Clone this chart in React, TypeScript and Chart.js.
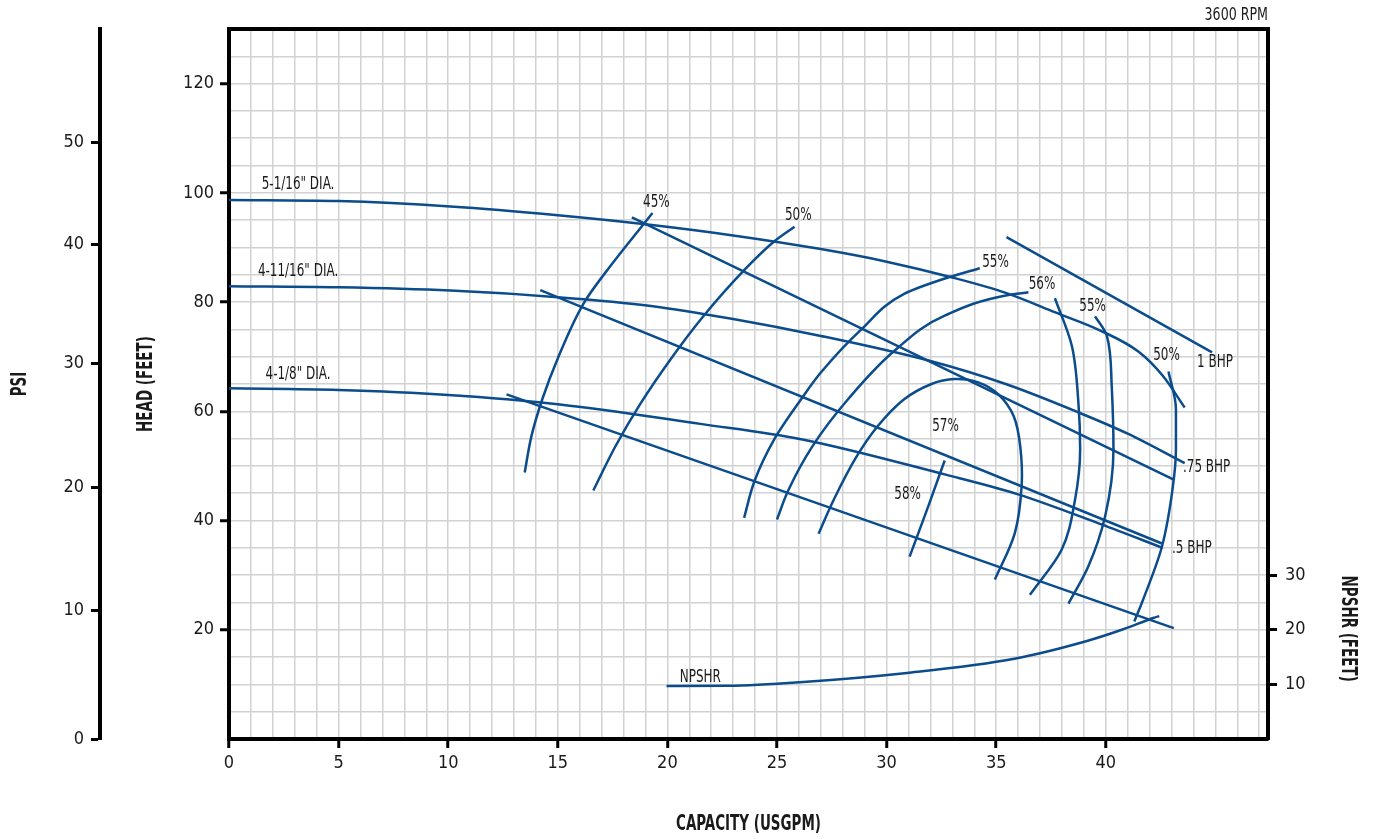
import React, { useEffect, useRef } from 'react';
import { Chart, registerables } from 'chart.js';

Chart.register(...registerables);

const FONT = "'Liberation Sans Narrow', 'DejaVu Sans Condensed', 'Liberation Sans', sans-serif";
const BLUE = '#0b4c8c';
const TEXT = '#1a1a1a';
const GRID = '#d2d2d2';

// Axis ranges and tick labels
const X_MAX = 47.4;
const Y_MAX = 130;
const X_TICK_LABELS = [0, 5, 10, 15, 20, 25, 30, 35, 40];
const HEAD_TICK_LABELS = [20, 40, 60, 80, 100, 120];
const PSI_TICK_LABELS = [0, 10, 20, 30, 40, 50];
const PSI_TICK_HEAD = [0, 23.6, 46.0, 68.8, 90.6, 109.3];
const NPSHR_TICKS = [10, 20, 30];

// Head curves (capacity USGPM, head ft)
const DIA_5_1_16: [number, number][] = [[0, 98.7], [5, 98.5], [10.1, 97.5], [15, 95.9], [19.1, 94.2], [23, 92.2], [27, 89.7], [30, 87.4], [33, 84.5], [35.5, 81.6], [37.7, 78.1], [39.8, 74.7], [41.5, 70.9], [42.6, 66.5], [43.6, 60.7]];
const DIA_4_11_16: [number, number][] = [[0, 82.9], [5, 82.7], [10.1, 82.1], [15, 80.9], [19.25, 79.3], [23, 76.9], [27, 73.8], [32, 69.2], [35.5, 64.9], [38.75, 59.8], [41, 55.9], [43.6, 50.5]];
const DIA_4_1_8: [number, number][] = [[0, 64.2], [5, 63.9], [10, 63.0], [15, 61.3], [21.5, 57.7], [26.1, 54.9], [32.7, 48.4], [36.0, 44.8], [39.8, 39.3], [42.6, 35.0]];

// BHP lines
const BHP_1: [number, number][] = [[35.47, 91.9], [44.85, 70.8]];
const BHP_075: [number, number][] = [[18.38, 95.5], [43.1, 47.5]];
const BHP_05: [number, number][] = [[14.2, 82.2], [42.56, 35.8]];
const BHP_LOW: [number, number][] = [[12.66, 63.1], [43.1, 20.3]];

// Efficiency curves
const EFF_45: [number, number][] = [[13.49, 48.8], [13.8, 55.5], [14.3, 62.3], [14.98, 69.5], [16.2, 79.9], [17.4, 86.6], [19.32, 96.3]];
const EFF_50_L: [number, number][] = [[16.62, 45.5], [17.63, 53.6], [18.77, 61.4], [20.14, 69.5], [21.64, 77.4], [23.47, 85.7], [24.84, 91.0], [25.8, 93.8]];
const EFF_55_L: [number, number][] = [[23.5, 40.5], [23.97, 47.2], [24.88, 54.9], [26.1, 62.2], [27.0, 67.1], [28.85, 75.0], [30.8, 81.5], [32.96, 84.7], [34.25, 86.2]];
const EFF_56: [number, number][] = [[25.0, 40.2], [25.5, 45.4], [26.6, 53.5], [28.24, 62.2], [30.45, 71.4], [32.65, 77.5], [35.55, 81.3], [36.47, 81.8]];
const EFF_57: [number, number][] = [[26.9, 37.6], [27.6, 43.9], [28.6, 51.5], [29.6, 57.3], [30.8, 62.2], [32.05, 65.0], [33.1, 65.9], [34.18, 65.3], [35.1, 63.1], [35.8, 59.1], [36.1, 53.5], [36.16, 46.3], [35.85, 37.7], [34.94, 29.2]];
const EFF_58: [number, number][] = [[32.65, 51.0], [31.9, 42.6], [31.05, 33.4]];
const EFF_55_R: [number, number][] = [[37.68, 80.7], [38.45, 72.0], [38.75, 61.6], [38.83, 53.0], [38.6, 43.9], [37.99, 34.7], [36.54, 26.4]];
const EFF_55_R2: [number, number][] = [[39.51, 77.4], [40.05, 73.8], [40.27, 64.6], [40.35, 53.0], [39.97, 40.8], [39.2, 31.6], [38.3, 24.8]];
const EFF_50_R: [number, number][] = [[42.86, 67.3], [43.2, 60.4], [43.2, 53.0], [43.06, 46.2], [42.56, 35.2], [41.7, 25.5], [41.3, 21.5]];

// NPSHR curve (capacity, NPSHR ft)
const NPSHR: [number, number][] = [[19.96, 9.7], [22.77, 9.75], [26.03, 10.4], [30.93, 12.1], [35.83, 14.7], [39.1, 17.9], [40.73, 20.0], [42.2, 22.2], [42.44, 22.5]];

// Curve labels (centered)
const LABEL_TEXT = ['5-1/16" DIA.', '4-11/16" DIA.', '4-1/8" DIA.', '45%', '50%', '55%', '56%', '55%', '50%', '57%', '58%'];
const LABEL_X = [3.15, 3.15, 3.15, 19.5, 25.97, 34.97, 37.09, 39.4, 42.77, 32.69, 30.96];
const LABEL_Y = [101.5, 85.7, 66.8, 98.2, 95.96, 87.3, 83.25, 79.3, 70.3, 57.2, 44.8];
// BHP labels (left aligned)
const BHP_TEXT = ['1 BHP', '.75 BHP', '.5 BHP'];
const BHP_X = [44.16, 43.52, 43.02];
const BHP_Y = [68.9, 49.7, 35.0];
const NPSHR_LABEL = { text: 'NPSHR', x: 21.5, y: 11.25 };

const toPts = (a: [number, number][]) => a.map(([x, y]) => ({ x, y }));

function drawText(ctx: CanvasRenderingContext2D, text: string, x: number, y: number, font: string, sx: number, align: CanvasTextAlign, rot = 0) {
  ctx.save();
  ctx.translate(x, y);
  if (rot) ctx.rotate(rot);
  ctx.scale(sx, 1);
  ctx.font = font;
  ctx.textAlign = align;
  ctx.textBaseline = 'middle';
  ctx.fillStyle = TEXT;
  ctx.fillText(text, 0, 0);
  ctx.restore();
}

const labelPlugin = {
  id: 'curveLabels',
  afterDraw(chart: any) {
    const { ctx, chartArea } = chart;
    const xs = chart.scales.x;
    const ys = chart.scales.y;
    const ns = chart.scales.npshr;
    const ps = chart.scales.psi;
    const lf = `18px ${FONT}`;
    const SX = 0.74;
    LABEL_TEXT.forEach((t, i) => {
      drawText(ctx, t, xs.getPixelForValue(LABEL_X[i]), ys.getPixelForValue(LABEL_Y[i]), lf, SX, 'center');
    });
    drawText(ctx, NPSHR_LABEL.text, xs.getPixelForValue(NPSHR_LABEL.x), ns.getPixelForValue(NPSHR_LABEL.y), lf, SX, 'center');
    BHP_TEXT.forEach((t, i) => {
      drawText(ctx, t, xs.getPixelForValue(BHP_X[i]), ys.getPixelForValue(BHP_Y[i]), lf, SX, 'left');
    });
    drawText(ctx, '3600 RPM', chartArea.right, chartArea.top - 14, lf, 0.78, 'right');
    // axis titles
    const tf = `bold 22px ${FONT}`;
    const TSX = 0.68;
    const midY = (chartArea.top + chartArea.bottom) / 2;
    drawText(ctx, 'CAPACITY (USGPM)', (chartArea.left + chartArea.right) / 2, chart.height - 15, tf, TSX, 'center');
    drawText(ctx, 'HEAD (FEET)', ys.left + 46, midY, tf, TSX, 'center', -Math.PI / 2);
    drawText(ctx, 'PSI', ps.left + 20, midY, tf, TSX, 'center', -Math.PI / 2);
    drawText(ctx, 'NPSHR (FEET)', chartArea.right + 80, ns.getPixelForValue(20.2), tf, TSX, 'center', Math.PI / 2);
  },
};

export default function App() {
  const ref = useRef<HTMLCanvasElement>(null);
  useEffect(() => {
    document.body.style.margin = '0';
    if (!ref.current) return;
    // mode: 'x' monotone along capacity, 'y' monotone along head, 't' plain tension
    const line = (data: [number, number][], mode: 'x' | 'y' | 't' | 'straight', axis = 'y') => ({
      data: toPts(data),
      borderColor: BLUE,
      borderWidth: 2.5,
      pointRadius: 0,
      fill: false,
      tension: mode === 't' ? 0.35 : 0,
      cubicInterpolationMode: mode === 'x' || mode === 'y' ? 'monotone' : 'default',
      indexAxis: mode === 'y' ? 'y' : 'x',
      yAxisID: axis,
      xAxisID: 'x',
    });
    const tickFont = { family: FONT, size: 18 };
    const chart = new Chart(ref.current, {
      type: 'line',
      data: {
        datasets: [
          line(DIA_5_1_16, 'x'),
          line(DIA_4_11_16, 'x'),
          line(DIA_4_1_8, 'x'),
          line(BHP_1, 'straight'),
          line(BHP_075, 'straight'),
          line(BHP_05, 'straight'),
          line(BHP_LOW, 'straight'),
          line(EFF_45, 'y'),
          line(EFF_50_L, 'y'),
          line(EFF_55_L, 'y'),
          line(EFF_56, 'y'),
          line(EFF_57, 't'),
          line(EFF_58, 'y'),
          line(EFF_55_R, 'y'),
          line(EFF_55_R2, 'y'),
          line(EFF_50_R, 'y'),
          line(NPSHR, 'x', 'npshr'),
        ] as any,
      },
      options: {
        responsive: false,
        animation: false,
        devicePixelRatio: 1,
        layout: { padding: { top: 29, left: 0, right: 0, bottom: 0 } },
        plugins: { legend: { display: false }, tooltip: { enabled: false }, title: { display: false } },
        scales: {
          x: {
            type: 'linear',
            position: 'bottom',
            min: 0,
            max: X_MAX,
            ticks: {
              stepSize: 1,
              autoSkip: false,
              maxRotation: 0,
              includeBounds: false,
              padding: 5,
              font: tickFont,
              color: TEXT,
              callback: (v: any) => (X_TICK_LABELS.includes(Number(v)) ? String(v) : ''),
            },
            grid: {
              color: (c: any) => (c.tick && c.tick.value === 0 ? '#000' : GRID),
              lineWidth: 1.5,
              tickColor: (c: any) => (c.tick && X_TICK_LABELS.includes(c.tick.value) ? '#000' : 'rgba(0,0,0,0)'),
              tickWidth: 3,
              tickLength: 9,
            },
            border: { color: '#000', width: 4 },
            afterFit: (s: any) => { s.height = 100; },
          },
          y: {
            type: 'linear',
            position: 'left',
            weight: 0,
            min: 0,
            max: Y_MAX,
            ticks: {
              stepSize: 5,
              autoSkip: false,
              padding: 6,
              font: tickFont,
              color: TEXT,
              callback: (v: any) => (HEAD_TICK_LABELS.includes(Number(v)) ? String(v) : ''),
            },
            grid: {
              color: (c: any) => (c.tick && (c.tick.value === 0 || c.tick.value === Y_MAX) ? '#000' : GRID),
              lineWidth: (c: any) => (c.tick && c.tick.value === Y_MAX ? 4 : 1.5),
              tickColor: (c: any) => (c.tick && HEAD_TICK_LABELS.includes(c.tick.value) ? '#000' : 'rgba(0,0,0,0)'),
              tickWidth: 3,
              tickLength: 9,
            },
            border: { color: '#000', width: 4 },
            afterFit: (s: any) => { s.width = 129; },
          },
          psi: {
            type: 'linear',
            position: 'left',
            weight: 1,
            min: 0,
            max: Y_MAX,
            afterBuildTicks: (s: any) => { s.ticks = PSI_TICK_HEAD.map((v) => ({ value: v })); },
            ticks: {
              autoSkip: false,
              padding: 7,
              font: tickFont,
              color: TEXT,
              callback: (_v: any, i: number) => String(PSI_TICK_LABELS[i]),
            },
            grid: { drawOnChartArea: false, tickColor: '#000', tickWidth: 3, tickLength: 9 },
            border: { color: '#000', width: 4 },
            afterFit: (s: any) => { s.width = 100; },
          },
          npshr: {
            type: 'linear',
            position: 'right',
            min: 0,
            max: Y_MAX,
            afterBuildTicks: (s: any) => { s.ticks = NPSHR_TICKS.map((v) => ({ value: v })); },
            ticks: { autoSkip: false, padding: 8, font: tickFont, color: TEXT },
            grid: { drawOnChartArea: false, tickColor: '#000', tickWidth: 3, tickLength: 9 },
            border: { color: '#000', width: 4 },
            afterFit: (s: any) => { s.width = 107; },
          },
        } as any,
      },
      plugins: [labelPlugin],
    });
    return () => chart.destroy();
  }, []);
  return (
    <div style={{ width: 1375, height: 839, background: '#fff' }}>
      <canvas ref={ref} width={1375} height={839} />
    </div>
  );
}
